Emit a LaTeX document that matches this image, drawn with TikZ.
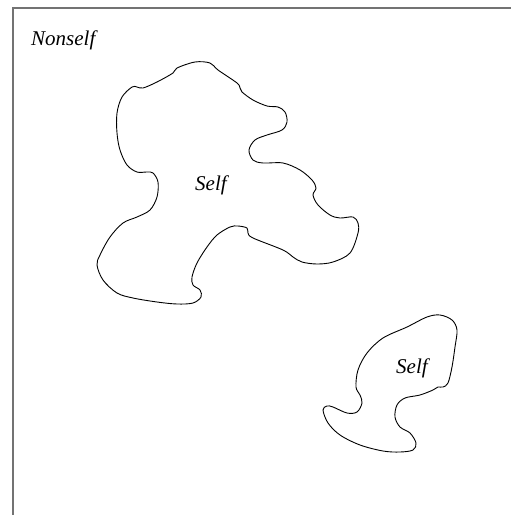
\documentclass[tikz,border=0pt]{standalone}
\usepackage{fontspec}
\setmainfont{Liberation Serif}[ItalicFont={Liberation Serif Italic}]
\begin{document}
\begin{tikzpicture}[x=1pt,y=-1pt,
  blob/.style={draw=black,line width=0.9pt,line join=round},
  frameline/.style={draw=black!55,line width=1.6pt},
  lbl/.style={font=\fontsize{21}{23}\selectfont\itshape,inner sep=0pt,anchor=base west}]
\useasboundingbox (0,0) rectangle (511,515);
\coordinate (fbl) at (13,515);
\coordinate (ftl) at (13,8);
\coordinate (ftr) at (511,8);
\draw[frameline] (fbl) -- (ftl) -- (ftr);
\node[lbl] (nonself) at (31,45) {Nonself};
\draw[blob] plot[smooth cycle,tension=0.55] coordinates {
 (177,68) (195,62) (210,63) (218,70) (237,83) (240,88) (242,92) (253,100)
 (267,106) (278,107) (285,112) (287,122) (282,130) (267,135) (255,140)
 (249,150) (253,160) (263,163) (283,163) (300,170) (312,180) (316,188)
 (313,195) (318,205) (330,215) (340,218) (353,217) (358,223) (358,233)
 (350,253) (333,262) (317,264) (302,262) (293,257) (283,250) (253,238)
 (248,233) (247,228) (238,226) (230,227) (217,235) (207,247) (197,263)
 (192,277) (193,285) (200,290) (201,297) (193,303) (177,304) (157,302)
 (133,298) (117,293) (103,280) (97,265) (100,255) (110,237) (123,223)
 (137,217) (150,210) (157,197) (158,182) (153,173) (147,172) (137,172)
 (127,165) (120,150) (117,133) (117,113) (122,97) (132,87) (137,87)
 (143,88) (157,82) (173,73)};
\node[lbl] (self1) at (195,190) {Self};
\draw[blob] plot[smooth cycle,tension=0.55] coordinates {
 (440,315) (452,320) (457,330) (455,347) (452,367) (448,383) (443,387)
 (438,387) (433,390) (420,395) (405,398) (397,405) (395,417) (400,427)
 (410,433) (416,443) (413,450) (400,452) (383,451) (360,445) (340,435)
 (328,423) (323,410) (327,406) (333,407) (347,413) (357,412) (362,403)
 (360,395) (356,387) (358,370) (367,353) (383,338) (407,327) (427,317)};
\node[lbl] (self2) at (396,373) {Self};
\end{tikzpicture}
\end{document}
